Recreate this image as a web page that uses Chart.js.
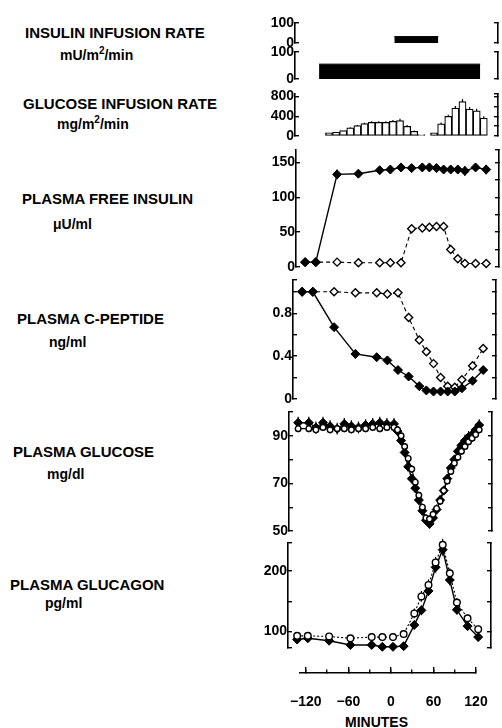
<!DOCTYPE html>
<html>
<head>
<meta charset="utf-8">
<script src="https://cdn.jsdelivr.net/npm/chart.js@4.4.0/dist/chart.umd.min.js"></script>
<style>
  body { margin: 0; background: #fff; }
  #page { position: relative; width: 502px; height: 728px; overflow: hidden;
          font-family: "Liberation Sans", Arial, sans-serif; font-weight: bold; color: #000; }
  .lbl { position: absolute; font-size: 15px; line-height: 15px; white-space: nowrap; }
  .unit { position: absolute; font-size: 14px; line-height: 14px; white-space: nowrap; }
  .unit sup { font-size: 10px; line-height: 0; vertical-align: 6px; }
  canvas { position: absolute; }
</style>
</head>
<body>
<div id="page">
  <div class="lbl" style="left:25px;top:24.6px">INSULIN INFUSION RATE</div>
  <div class="unit" style="left:60px;top:47.5px">mU/m<sup>2</sup>/min</div>
  <div class="lbl" style="left:23px;top:95.6px">GLUCOSE INFUSION RATE</div>
  <div class="unit" style="left:57px;top:117px">mg/m<sup>2</sup>/min</div>
  <div class="lbl" style="left:22px;top:191.3px">PLASMA FREE INSULIN</div>
  <div class="unit" style="left:53px;top:216.5px">μU/ml</div>
  <div class="lbl" style="left:17px;top:311.3px">PLASMA C-PEPTIDE</div>
  <div class="unit" style="left:49px;top:334.8px">ng/ml</div>
  <div class="lbl" style="left:13px;top:444px">PLASMA GLUCOSE</div>
  <div class="unit" style="left:47px;top:467px">mg/dl</div>
  <div class="lbl" style="left:10px;top:577.3px">PLASMA GLUCAGON</div>
  <div class="unit" style="left:45px;top:596px">pg/ml</div>
  <div class="unit" style="left:345px;top:714.8px">MINUTES</div>

  <canvas id="insulinPulse"></canvas>
  <canvas id="insulinInfused"></canvas>
  <canvas id="glucoseRate"></canvas>
  <canvas id="freeInsulin"></canvas>
  <canvas id="cPeptide"></canvas>
  <canvas id="glucose"></canvas>
  <canvas id="glucagon"></canvas>
  <canvas id="minutes"></canvas>
</div>
<script>
// ---- data (minutes relative to start of insulin pulse) ----
const hormoneMinutes = [-135, -120, -90, -60, -30, -15, 0, 15, 30, 40, 50, 60, 70, 80, 90, 105, 120];

const freeInsulinInfused    = [7, 7, 133, 134, 139, 140, 143, 142, 143, 143, 142, 140, 140, 140, 138, 143, 140];
const freeInsulinInfusedSem = [2, 2, 7, 6, 6, 6, 6, 5, 6, 6, 6, 6, 6, 6, 7, 6, 7];
const freeInsulinPulse      = [7, 7, 7, 6, 6, 6, 6, 55, 56, 57, 58, 58, 25, 12, 5, 5, 5];
const freeInsulinPulseSem   = [1, 1, 1, 1, 1, 1, 1, 3, 3, 3, 3, 4, 4, 3, 2, 1, 1];

const cPeptideInfused    = [1.00, 1.00, 0.67, 0.42, 0.39, 0.36, 0.27, 0.21, 0.12, 0.08, 0.07, 0.07, 0.07, 0.07, 0.10, 0.17, 0.27];
const cPeptideInfusedSem = [0.02, 0.02, 0.03, 0.04, 0.03, 0.03, 0.03, 0.03, 0.03, 0.03, 0.02, 0.02, 0.02, 0.03, 0.03, 0.03, 0.03];
const cPeptidePulse      = [1.00, 1.00, 1.00, 0.99, 0.99, 0.98, 0.99, 0.76, 0.55, 0.44, 0.33, 0.20, 0.12, 0.11, 0.18, 0.31, 0.47];
const cPeptidePulseSem   = [0.01, 0.01, 0.01, 0.01, 0.01, 0.01, 0.01, 0.02, 0.02, 0.02, 0.02, 0.02, 0.02, 0.02, 0.02, 0.02, 0.02];

const glucagonInfused    = [87, 89, 85, 78, 78, 75, 75, 76, 111, 135, 167, 206, 235, 185, 136, 109, 91];
const glucagonInfusedSem = [6, 6, 5, 5, 5, 5, 5, 5, 7, 8, 8, 9, 10, 9, 8, 7, 7];
const glucagonPulse      = [93, 93, 92, 89, 91, 91, 91, 96, 130, 158, 177, 214, 243, 196, 148, 122, 104];
const glucagonPulseSem   = [4, 4, 4, 4, 5, 6, 6, 6, 8, 9, 9, 9, 10, 8, 7, 6, 6];

const glucoseMinutes = [-135, -120, -110, -100, -90, -80, -70, -60, -50, -40, -30, -20, -10, 0,
  5, 10, 15, 20, 25, 30, 35, 40, 45, 50, 55, 60, 65, 70, 75, 80, 85, 90, 95, 100, 105, 110, 115, 120];
const glucoseInfused = [95.5, 95.5, 93.5, 95.5, 94, 93, 95, 94, 93.5, 94.5, 95, 95.5, 95, 95,
  92, 88, 83, 77, 72, 68, 63, 58.5, 54.5, 53, 55.5, 59, 63, 67, 72, 76.5, 80, 83.5, 86, 88, 89.5, 90.5, 92.5, 94.5];
const glucoseInfusedSem = [2.5, 2.5, 2.5, 2.5, 2.5, 2.5, 2.5, 2.5, 2.5, 2.5, 2.5, 2.5, 2.5, 2.5,
  2, 2, 2, 2, 2, 2, 2, 2, 2, 2, 2, 2, 2, 2, 2, 2, 2, 2.5, 2.5, 2.5, 2.5, 2.5, 2.5, 2.5];
const glucosePulse = [93, 93, 92.5, 93.5, 92.5, 93, 93, 92.5, 93, 93, 93.5, 93, 93.5, 93.5,
  92.5, 90, 85.5, 80.5, 76, 70.5, 65, 60, 55.5, 55, 57, 59.5, 62.5, 67, 71, 75, 78.5, 81, 83.5, 85.5, 87.5, 89, 90.5, 92.5];
const glucosePulseSem = [1.5, 1.5, 1.5, 1.5, 1.5, 1.5, 1.5, 1.5, 1.5, 1.5, 1.5, 1.5, 1.5, 1.5,
  1.5, 1.5, 1.5, 1.5, 1.5, 1.5, 1.5, 1.5, 1.5, 1.5, 1.5, 1.5, 1.5, 1.5, 1.5, 1.5, 1.5, 1.5, 1.5, 1.5, 1.5, 1.5, 1.5, 1.5];

const glucoseInfusionMinutes = [-100, -90, -80, -70, -60, -50, -40, -30, -20, -10, 0, 10, 20, 30,
  48, 58, 68, 78, 88, 98, 108, 118];
const glucoseInfusionRate = [64, 76, 110, 164, 210, 250, 276, 276, 276, 296, 310, 196, 96, 30,
  64, 244, 396, 564, 696, 544, 510, 364];
const glucoseInfusionSem = [0, 0, 0, 15, 15, 20, 25, 25, 25, 30, 40, 25, 15, 0,
  0, 30, 35, 45, 50, 40, 40, 35];

const insulinPulseMinutes = [-8, 54];
const insulinPulseRate = [32, 32];
const insulinInfusedMinutes = [-114, 113];
const insulinInfusedRate = [55, 55];

const insulinRateTicks = [0, 100],            insulinRateLabels = [0, 100];
const glucoseRateTicks = [0, 200, 400, 600, 800], glucoseRateLabels = [0, 400, 800];
const freeInsulinTicks = [0, 25, 50, 75, 100, 125, 150], freeInsulinLabels = [0, 50, 100, 150];
const cPeptideTicks = [0, 0.2, 0.4, 0.6, 0.8, 1.0], cPeptideLabels = [0, 0.4, 0.8];
const glucoseTicks = [50, 60, 70, 80, 90, 100], glucoseLabels = [50, 70, 90];
const glucagonTicks = [100, 150, 200],        glucagonLabels = [100, 200];
const minuteTicks = [-120, -90, -60, -30, 0, 30, 60, 90, 120];
const minuteLabels = [-120, -60, 0, 60, 120];

// ---- layout ----
const FONT = '"Liberation Sans", Arial, sans-serif';
const AXW = 44, RW = 12, PAD = 16;
const X_ZERO = 391, PX_PER_MIN = 0.71, FRAME_LEFT = 286, FRAME_W = 203;
const X_MIN = (FRAME_LEFT - X_ZERO) / PX_PER_MIN;
const X_MAX = X_MIN + FRAME_W / PX_PER_MIN;

function pts(xs, ys) {
    return xs.map((x, i) => ({ x: x, y: ys[i] }));
}

// vertical error bars, drawn under the markers
const errorBars = {
    id: 'errorBars',
    beforeDatasetsDraw(chart) {
        const ctx = chart.ctx;
        const xs = chart.scales.x, ys = chart.scales.y;
        ctx.save();
        ctx.strokeStyle = '#000';
        ctx.lineWidth = 1.2;
        chart.data.datasets.forEach(ds => {
            if (!ds.err) return;
            ds.data.forEach((p, i) => {
                const e = ds.err[i];
                if (!e) return;
                const px = xs.getPixelForValue(p.x);
                ctx.beginPath();
                ctx.moveTo(px, ys.getPixelForValue(p.y - e));
                ctx.lineTo(px, ys.getPixelForValue(p.y + e));
                ctx.stroke();
            });
        });
        ctx.restore();
    }
};

function yScale(pos, min, max, ticks, labels) {
    return {
        type: 'linear',
        position: pos,
        min: min,
        max: max,
        afterBuildTicks: s => {
            const vals = [min];
            ticks.forEach(v => { if (v > min && v < max) vals.push(v); });
            vals.push(max);
            s.ticks = vals.map(v => ({ value: v }));
        },
        afterFit: s => { s.width = pos === 'left' ? AXW : RW; },
        border: { display: true, color: '#000', width: 1.6 },
        grid: { drawOnChartArea: false, drawTicks: true, tickLength: -4, color: '#000', lineWidth: 1.4 },
        ticks: {
            display: pos === 'left',
            padding: 5,
            color: '#000',
            font: { family: FONT, size: 14, weight: 'bold' },
            callback: v => labels.includes(v) ? String(v) : ''
        }
    };
}

function panel(id, shift, top, bottom, min, max, ticks, labels, datasets) {
    const c = document.getElementById(id);
    c.width = FRAME_W + AXW + RW;
    c.height = bottom - top + 2 * PAD;
    c.style.left = (FRAME_LEFT + shift - AXW) + 'px';
    c.style.top = (top - PAD) + 'px';
    return new Chart(c, {
        type: 'line',
        data: { datasets: datasets },
        options: {
            responsive: false,
            animation: false,
            devicePixelRatio: 1,
            layout: { padding: { top: PAD, bottom: PAD, left: 0, right: 0 } },
            plugins: { legend: { display: false }, tooltip: { enabled: false } },
            scales: {
                x: { type: 'linear', min: X_MIN, max: X_MAX, display: false, offset: false },
                y: yScale('left', min, max, ticks, labels),
                y2: yScale('right', min, max, ticks, labels)
            }
        },
        plugins: [errorBars]
    });
}

function solid(xs, ys, err) {
    return {
        data: pts(xs, ys), err: err,
        borderColor: '#000', borderWidth: 1.4, tension: 0, fill: false, clip: false,
        pointStyle: 'rectRot', pointRadius: 4.5,
        pointBackgroundColor: '#000', pointBorderColor: '#000', pointBorderWidth: 1
    };
}

function open(xs, ys, err, dash, shape, r) {
    return {
        data: pts(xs, ys), err: err,
        borderColor: '#000', borderWidth: 1.1, borderDash: dash, tension: 0, fill: false, clip: false,
        pointStyle: shape, pointRadius: r,
        pointBackgroundColor: '#fff', pointBorderColor: '#000', pointBorderWidth: 1.4
    };
}

function infusionBar(xs, ys) {
    return {
        data: pts(xs, ys),
        borderColor: '#000', borderWidth: 1, backgroundColor: '#000',
        fill: 'origin', pointRadius: 0, tension: 0, clip: false
    };
}

// ---- panels ----
panel('insulinPulse', 9, 23, 43, 0, 100, insulinRateTicks, insulinRateLabels,
    [infusionBar(insulinPulseMinutes, insulinPulseRate)]);

panel('insulinInfused', 9, 52, 79, 0, 100, insulinRateTicks, insulinRateLabels,
    [infusionBar(insulinInfusedMinutes, insulinInfusedRate)]);

panel('glucoseRate', 9, 94, 136, 0, 850, glucoseRateTicks, glucoseRateLabels, [{
    type: 'bar',
    data: pts(glucoseInfusionMinutes, glucoseInfusionRate),
    err: glucoseInfusionSem,
    backgroundColor: '#fff', borderColor: '#000', borderWidth: 1.2, borderSkipped: false,
    barPercentage: 1, categoryPercentage: 1, grouped: false
}]);

panel('freeInsulin', 10, 150, 267, 0, 168, freeInsulinTicks, freeInsulinLabels, [
    solid(hormoneMinutes, freeInsulinInfused, freeInsulinInfusedSem),
    open(hormoneMinutes, freeInsulinPulse, freeInsulinPulseSem, [4, 3], 'rectRot', 4)
]);

panel('cPeptide', 7, 280, 399, 0, 1.11, cPeptideTicks, cPeptideLabels, [
    solid(hormoneMinutes, cPeptideInfused, cPeptideInfusedSem),
    open(hormoneMinutes, cPeptidePulse, cPeptidePulseSem, [4, 3], 'rectRot', 4)
]);

panel('glucose', 3, 412, 531, 50, 100, glucoseTicks, glucoseLabels, [
    open(glucoseMinutes, glucosePulse, glucosePulseSem, [], 'circle', 2.8),
    solid(glucoseMinutes, glucoseInfused, glucoseInfusedSem)
]);

panel('glucagon', 2, 543, 648, 73, 246, glucagonTicks, glucagonLabels, [
    open(hormoneMinutes, glucagonPulse, glucagonPulseSem, [2, 2], 'circle', 3.3),
    solid(hormoneMinutes, glucagonInfused, glucagonInfusedSem)
]);

// ---- time axis: long marks every hour, short marks in between ----
const xa = document.getElementById('minutes');
const XA_LEFT = 300, XA_PAD = 45;
const xaMin = (XA_LEFT - X_ZERO) / PX_PER_MIN;
xa.width = Math.round((120 - xaMin) * PX_PER_MIN) + 2 * XA_PAD;
xa.height = 53;
xa.style.left = (XA_LEFT - XA_PAD) + 'px';
xa.style.top = '660px';
new Chart(xa, {
    type: 'line',
    data: { datasets: [] },
    options: {
        responsive: false,
        animation: false,
        devicePixelRatio: 1,
        layout: { padding: { top: 7, bottom: 0, left: XA_PAD, right: XA_PAD } },
        plugins: { legend: { display: false }, tooltip: { enabled: false } },
        scales: {
            x: {
                type: 'linear', min: xaMin, max: 120,
                afterBuildTicks: s => { s.ticks = minuteTicks.map(v => ({ value: v })); },
                afterFit: s => { s.height = 40; },
                border: { display: true, color: '#000', width: 1.6 },
                grid: {
                    drawOnChartArea: true, drawTicks: true, tickLength: -3.5,
                    color: c => (c.tick && minuteLabels.includes(c.tick.value)) ? '#000' : 'rgba(0,0,0,0)',
                    tickColor: '#000', lineWidth: 1.4
                },
                ticks: {
                    padding: 24.5, color: '#000', autoSkip: false, maxRotation: 0,
                    font: { family: FONT, size: 14, weight: 'bold' },
                    callback: v => minuteLabels.includes(v) ? String(v).replace('-', '\u2212') : ''
                }
            },
            y: { display: false, min: 0, max: 1 }
        }
    }
});
</script>
</body>
</html>
